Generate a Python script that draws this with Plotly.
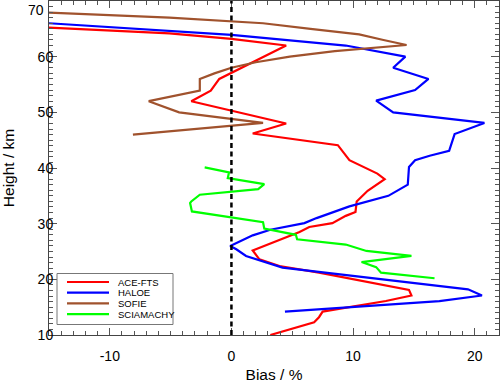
import plotly.graph_objects as go

# ACE-FTS (red)
ace_bias = [3.2, 6.8, 7.2, 7.5, 12.7, 14.8, 14.6, 7.2, 3.95, 2.3, 1.75, 3.95, 5.6, 6.4, 8.3, 9.4,
            10.2, 10.3, 11.2, 12.6, 12.0, 9.7, 9.3, 8.75, 1.75, 4.5, -3.3, -1.7, -1.0, 4.5, 0.0, -5.1, -15.0]
ace_height = [10.0, 12.3, 13.2, 14.2, 16.1, 17.1, 18.1, 21.2, 22.4, 23.6, 25.2, 27.1, 28.5, 29.4, 30.1, 31.4,
              32.1, 34.0, 35.9, 38.0, 39.0, 41.4, 42.6, 44.1, 46.2, 48.0, 52.0, 53.9, 56.0, 62.0, 63.2, 64.2, 65.2]

# HALOE (blue)
haloe_bias = [4.4, 17.1, 20.6, 19.45, 4.2, 1.2, 0.4, -0.1, 1.75, 3.2, 6.0, 7.0, 9.7, 12.9, 14.5, 14.6,
              15.1, 16.3, 17.9, 18.35, 20.8, 13.3, 11.9, 15.1, 16.2, 13.3, 14.3, 9.4, 0.0, -5.1, -15.0]
haloe_height = [14.2, 16.1, 17.1, 18.2, 22.1, 24.2, 25.4, 26.0, 27.9, 28.9, 30.1, 31.0, 33.1, 35.0, 37.0, 40.2,
                41.4, 42.2, 43.1, 46.1, 48.1, 50.0, 52.1, 54.0, 56.0, 58.0, 60.0, 62.0, 63.9, 64.6, 66.0]

# SOFIE (brown)
sofie_bias = [-8.1, 2.6, -4.3, -6.8, -2.6, -2.6, -1.4, 0.0, 2.0, 4.8, 8.5, 14.4, 12.5, 10.5, 6.5, 2.6, -5.1, -15.0]
sofie_height = [46.0, 48.1, 50.0, 52.0, 53.9, 56.0, 57.0, 58.0, 59.0, 60.0, 61.0, 62.1, 63.0, 64.0, 65.0, 66.0, 67.0, 67.9]

# SCIAMACHY (green)
scia_bias = [16.7, 12.3, 11.9, 10.7, 14.8, 11.1, 9.4, 5.4, 5.3, 2.7, 2.6, -3.25, -3.4, -3.3, -2.6, 2.2, 2.7, -0.3, -0.2, -2.2]
scia_height = [20.2, 21.2, 22.2, 23.1, 24.2, 25.1, 26.25, 27.2, 28.0, 29.1, 30.25, 32.2, 33.7, 34.0, 35.2, 36.2, 37.1, 38.2, 39.2, 40.1]

x_ticks = [-10, 0, 10, 20]
x_tick_labels = ["-10", "0", "10", "20"]
y_ticks = [10, 20, 30, 40, 50, 60]
y_top_label = 70

series = [
    ("ACE-FTS", ace_bias, ace_height, "#ff0000"),
    ("HALOE", haloe_bias, haloe_height, "#0000ff"),
    ("SOFIE", sofie_bias, sofie_height, "#a0522d"),
    ("SCIAMACHY", scia_bias, scia_height, "#00ff00"),
]

W, H = 500, 385
ML, MR, MT, MB = 49, 1, 1, 50
PW, PH = W - ML - MR, H - MT - MB


def px_x(p):
    return (p - ML) / PW


def px_y(p):
    return (H - MB - p) / PH


font_main = "Liberation Sans, Arial, Helvetica, sans-serif"

fig = go.Figure()
for name, xs, ys, col in series:
    fig.add_trace(go.Scatter(x=xs, y=ys, mode="lines", name=name, showlegend=False,
                             line=dict(color=col, width=2.2)))

# zero reference line
fig.add_shape(type="line", x0=0, x1=0, y0=0, y1=1, xref="x", yref="paper",
              line=dict(color="black", width=2.5, dash="5px,3.5px"))

# compact legend box
fig.add_shape(type="rect", xref="paper", yref="paper",
              x0=px_x(57), x1=px_x(173), y0=px_y(324.5), y1=px_y(273.5),
              line=dict(color="#777777", width=1), fillcolor="white", layer="above")
row0, row_gap = 282.0, 10.7
for i, (name, xs, ys, col) in enumerate(series):
    yy = px_y(row0 + i * row_gap)
    fig.add_shape(type="line", xref="paper", yref="paper", x0=px_x(67), x1=px_x(109),
                  y0=yy, y1=yy, line=dict(color=col, width=2.2), layer="above")
    fig.add_annotation(x=px_x(116), y=yy, xref="paper", yref="paper", text=name,
                       showarrow=False, xanchor="left", yanchor="middle",
                       font=dict(family=font_main, size=9.5, color="black"))

# top tick label, nudged inside the figure
fig.add_annotation(x=0, y=y_top_label, xref="paper", yref="y", text=str(y_top_label),
                   showarrow=False, xanchor="right", yanchor="top", xshift=-3, yshift=1,
                   font=dict(family=font_main, size=14, color="black"))

axis_common = dict(
    showline=True, linecolor="#444444", linewidth=1, mirror="ticks",
    ticks="inside", tickcolor="#555555", showgrid=False, zeroline=False,
    tickfont=dict(family=font_main, size=14, color="black"),
)
fig.update_xaxes(range=[-15, 22], tickvals=x_ticks, ticktext=x_tick_labels, ticklen=7, ticklabelstandoff=8,
                 minor=dict(ticks="inside", dtick=1, ticklen=4, tickcolor="#555555", tick0=0),
                 title=dict(text="Bias / %", font=dict(family=font_main, size=15.5, color="black"), standoff=6),
                 **axis_common)
fig.update_yaxes(range=[10, 70], tickvals=y_ticks, ticklen=8, ticklabelstandoff=-8,
                 minor=dict(ticks="inside", dtick=1, ticklen=4, tickcolor="#555555", tick0=0),
                 title=dict(text="Height / km", font=dict(family=font_main, size=15.5, color="black"), standoff=21),
                 **axis_common)

fig.update_layout(
    width=W, height=H,
    margin=dict(l=ML, r=MR, t=MT, b=MB),
    paper_bgcolor="white", plot_bgcolor="white",
    showlegend=False,
)
fig.write_html("out.html", config={"displayModeBar": False},
               post_script="document.body.style.margin='0';")
